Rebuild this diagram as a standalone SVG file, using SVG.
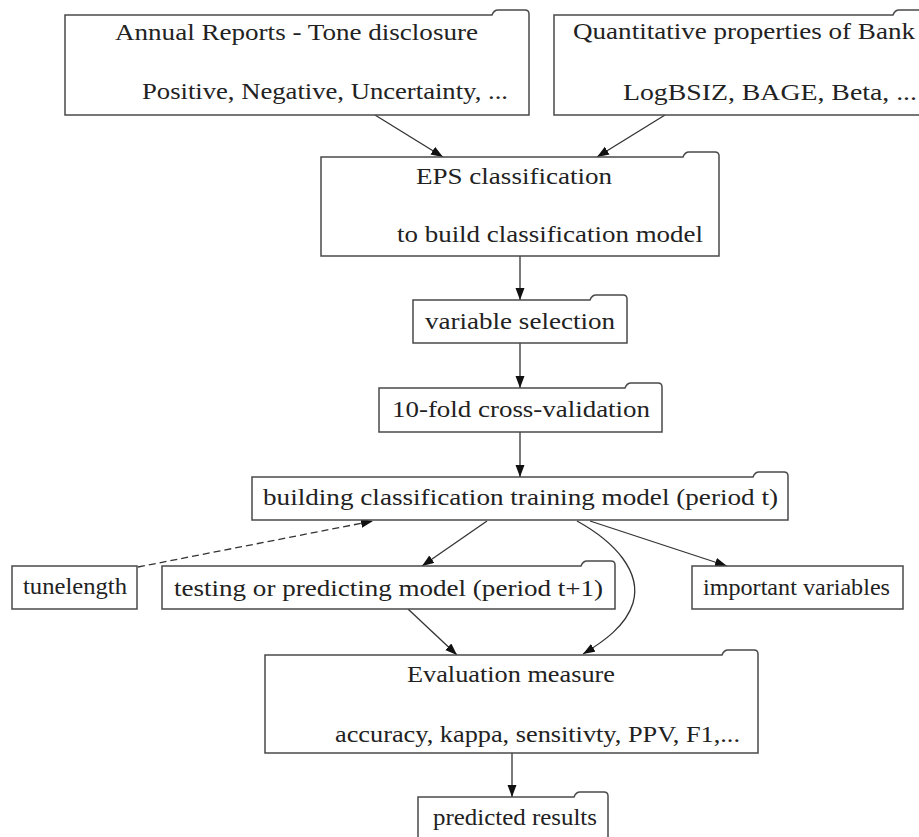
<svg xmlns="http://www.w3.org/2000/svg" width="919" height="837" viewBox="0 0 919 837">
<style>
.box{fill:#fff;stroke:#4a4a4a;stroke-width:1.5}
.t{font-family:"Liberation Serif","Times New Roman",serif;font-size:24px;fill:#222}
.e{fill:none;stroke:#333;stroke-width:1.3}
.d{stroke-dasharray:7,4}
</style>
<defs>
<marker id="ah" markerUnits="userSpaceOnUse" markerWidth="13" markerHeight="10" refX="12" refY="4.5" orient="auto">
<path d="M0,0 L12,4.5 L0,9 z" fill="#111"/>
</marker>
</defs>
<rect width="919" height="837" fill="#fff"/>
<g id="connectors">
<line class="e" x1="375" y1="115" x2="443" y2="157" marker-end="url(#ah)"/>
<line class="e" x1="665" y1="115" x2="597" y2="157" marker-end="url(#ah)"/>
<line class="e" x1="520" y1="256" x2="520" y2="300" marker-end="url(#ah)"/>
<line class="e" x1="520" y1="343" x2="520" y2="388" marker-end="url(#ah)"/>
<line class="e" x1="520" y1="432" x2="520" y2="477" marker-end="url(#ah)"/>
<line class="e d" x1="138" y1="567" x2="373" y2="521" marker-end="url(#ah)"/>
<line class="e" x1="487" y1="521" x2="422" y2="566" marker-end="url(#ah)"/>
<line class="e" x1="590" y1="521" x2="727" y2="566" marker-end="url(#ah)"/>
<path class="e" d="M577,521 C615,542 642,572 633,603 C626,626 603,642 583,654" marker-end="url(#ah)"/>
<line class="e" x1="408" y1="609" x2="457" y2="655" marker-end="url(#ah)"/>
<line class="e" x1="512" y1="753" x2="512" y2="797" marker-end="url(#ah)"/>
</g>
<g id="annual">
<path class="box" d="M65,15 H492 Q494,10 498,10 H525 Q529,10 529,14 V115 H65 Z"/>
<text class="t" x="115" y="40" textLength="363" lengthAdjust="spacingAndGlyphs">Annual Reports - Tone disclosure</text>
<text class="t" x="142" y="99" textLength="366" lengthAdjust="spacingAndGlyphs">Positive, Negative, Uncertainty, ...</text>
</g>
<g id="quant">
<path class="box" d="M554,15 H893 Q895,10 899,10 H930 Q934,10 934,14 V115 H554 Z"/>
<text class="t" x="573" y="39" textLength="342" lengthAdjust="spacingAndGlyphs">Quantitative properties of Bank</text>
<text class="t" x="623" y="100" textLength="294" lengthAdjust="spacingAndGlyphs">LogBSIZ, BAGE, Beta, ...</text>
</g>
<g id="eps">
<path class="box" d="M321,157 H683 Q685,152 689,152 H715 Q719,152 719,156 V256 H321 Z"/>
<text class="t" x="416" y="184" textLength="196" lengthAdjust="spacingAndGlyphs">EPS classification</text>
<text class="t" x="397" y="242" textLength="306" lengthAdjust="spacingAndGlyphs">to build classification model</text>
</g>
<g id="varsel">
<path class="box" d="M413,300 H590 Q592,295 596,295 H623 Q627,295 627,299 V343 H413 Z"/>
<text class="t" x="425" y="329" textLength="190" lengthAdjust="spacingAndGlyphs">variable selection</text>
</g>
<g id="cv">
<path class="box" d="M379,388 H625 Q627,383 631,383 H658 Q662,383 662,387 V432 H379 Z"/>
<text class="t" x="392" y="417" textLength="258" lengthAdjust="spacingAndGlyphs">10-fold cross-validation</text>
</g>
<g id="train">
<path class="box" d="M252,477 H753 Q755,472 759,472 H784 Q788,472 788,476 V520 H252 Z"/>
<text class="t" x="263" y="505" textLength="515" lengthAdjust="spacingAndGlyphs">building classification training model (period t)</text>
</g>
<g id="tune">
<rect class="box" x="12" y="566" width="125" height="43"/>
<text class="t" x="23" y="594" textLength="104" lengthAdjust="spacingAndGlyphs">tunelength</text>
</g>
<g id="test">
<path class="box" d="M162,566 H581 Q583,561 587,561 H611 Q615,561 615,565 V609 H162 Z"/>
<text class="t" x="174" y="596" textLength="429" lengthAdjust="spacingAndGlyphs">testing or predicting model (period t+1)</text>
</g>
<g id="important">
<rect class="box" x="692" y="566" width="211" height="43"/>
<text class="t" x="703" y="595" textLength="187" lengthAdjust="spacingAndGlyphs">important variables</text>
</g>
<g id="eval">
<path class="box" d="M265,655 H722 Q724,650 728,650 H754 Q758,650 758,654 V753 H265 Z"/>
<text class="t" x="407" y="682" textLength="208" lengthAdjust="spacingAndGlyphs">Evaluation measure</text>
<text class="t" x="335" y="742" textLength="405" lengthAdjust="spacingAndGlyphs">accuracy, kappa, sensitivty, PPV, F1,...</text>
</g>
<g id="predicted">
<path class="box" d="M418,797 H574 Q576,792 580,792 H604 Q608,792 608,796 V845 H418 Z"/>
<text class="t" x="433" y="825" textLength="164" lengthAdjust="spacingAndGlyphs">predicted results</text>
</g>
</svg>
